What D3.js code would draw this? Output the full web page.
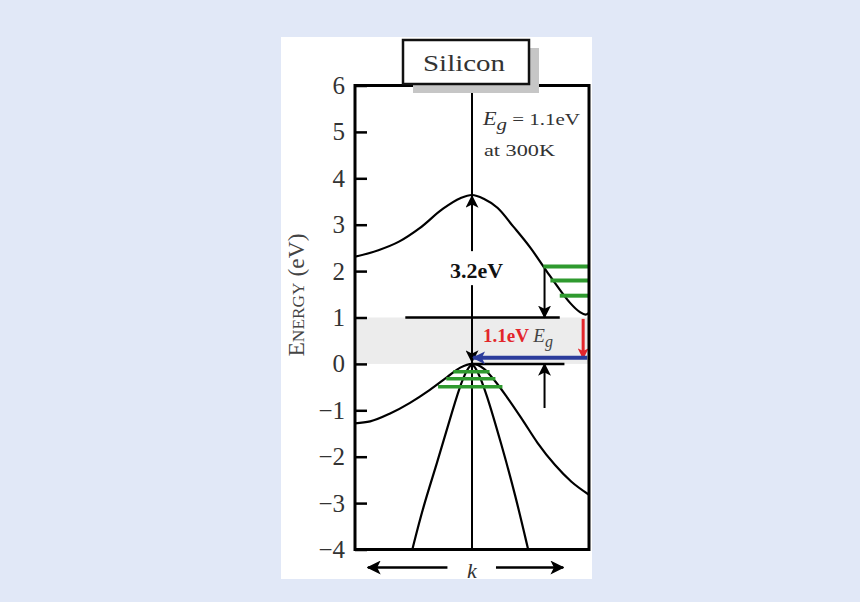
<!DOCTYPE html>
<html>
<head>
<meta charset="utf-8">
<script src="https://cdn.jsdelivr.net/npm/d3@7"></script>
<style>
  body { margin: 0; background: #e1e8f7; }
  svg { display: block; font-family: 'Liberation Serif', 'DejaVu Serif', serif; }
</style>
</head>
<body>
<svg id="chart" width="860" height="602"></svg>
<script>
const energyTicks = [-4, -3, -2, -1, 0, 1, 2, 3, 4, 5, 6]

// conduction band (k from -1 to 1, energy in eV)
const condK = [-1.0, -0.8, -0.62, -0.45, -0.25, -0.1, 0, 0.1, 0.22, 0.35, 0.5, 0.64, 0.75, 0.84, 0.92, 0.97, 1.0]
const condE = [2.31, 2.45, 2.64, 2.92, 3.34, 3.57, 3.64, 3.56, 3.36, 2.97, 2.5, 1.99, 1.6, 1.31, 1.12, 1.06, 1.1]

// valence band, outer branch
const valK = [-1.0, -0.87, -0.7, -0.53, -0.36, -0.21, -0.1, 0, 0.1, 0.2, 0.3, 0.43, 0.56, 0.71, 0.85, 1.0]
const valE = [-1.28, -1.24, -1.07, -0.84, -0.56, -0.28, -0.08, 0, -0.1, -0.38, -0.72, -1.2, -1.7, -2.18, -2.54, -2.82]

// valence band, steep inner branches
const innerLeftK = [-0.51, -0.42, -0.3, -0.19, -0.1, -0.04, 0]
const innerLeftE = [-4.0, -3.1, -2.15, -1.2, -0.45, -0.1, 0]
const innerRightK = [0, 0.04, 0.12, 0.25, 0.37, 0.48]
const innerRightE = [0, -0.1, -0.6, -1.72, -2.82, -4.0]

// filled states (green levels)
const condLevelE = [2.1, 1.8, 1.47]
const condLevelK = [0.61, 0.67, 0.75]
const valLevelE = [-0.17, -0.32, -0.49]
const valLevelK0 = [-0.16, -0.22, -0.29]
const valLevelK1 = [0.15, 0.2, 0.26]

// band edge lines
const edgeE = [1, 0]
const edgeK0 = [-0.57, 0]
const edgeK1 = [0.75, 0.79]

const arrowNames = ['cbDrop', 'vbRise', 'directUp', 'directDown', 'recombine', 'emit']
const arrowK0 = [0.62, 0.62, 0, 0, 0.95, 0.985]
const arrowK1 = [0.62, 0.62, 0, 0, 0.95, 0.01]
const arrowE0 = [2.05, -0.95, 3.0, 0.6, 0.97, 0.13]
const arrowE1 = [1.0, 0.0, 3.62, 0.04, 0.12, 0.13]

const x = d3.scaleLinear().domain([-1, 1]).range([355, 589])
const y = d3.scaleLinear().domain([-4, 6]).range([549.5, 85.5])

const svg = d3.select('#chart')

const arrowStyle = {
  cbDrop: { color: '#000', width: 2 },
  vbRise: { color: '#000', width: 2 },
  directUp: { color: '#000', width: 2 },
  directDown: { color: '#000', width: 2 },
  recombine: { color: '#e3262b', width: 3 },
  emit: { color: '#2b3c9c', width: 4 },
}

const defs = svg.append('defs')
function marker(id, color, size) {
  defs.append('marker')
    .attr('id', id)
    .attr('viewBox', '0 -6 12 12')
    .attr('refX', 11)
    .attr('refY', 0)
    .attr('markerUnits', 'userSpaceOnUse')
    .attr('markerWidth', size)
    .attr('markerHeight', size)
    .attr('orient', 'auto')
    .append('path')
    .attr('d', 'M0,-6L12,0L0,6L3,0Z')
    .attr('fill', color)
}
marker('head-black', '#000', 13)
marker('head-red', '#e3262b', 11)
marker('head-blue', '#2b3c9c', 13)
marker('head-k', '#000', 14)

// white panel
svg.append('rect')
  .attr('x', 281).attr('y', 37)
  .attr('width', 311).attr('height', 542)
  .attr('fill', '#fff')

// band gap shading
svg.append('rect')
  .attr('x', x(-1)).attr('y', y(1))
  .attr('width', x(1) - x(-1)).attr('height', y(0) - y(1))
  .attr('fill', '#ececec')

// center line (k = 0)
svg.append('line')
  .attr('x1', x(0)).attr('x2', x(0))
  .attr('y1', y(6)).attr('y2', y(-4))
  .attr('stroke', '#000').attr('stroke-width', 2)

const smooth = d3.line()
  .x((d) => x(d[0]))
  .y((d) => y(d[1]))
  .curve(d3.curveMonotoneX)

const steep = d3.line()
  .x((d) => x(d[0]))
  .y((d) => y(d[1]))
  .curve(d3.curveBasis)

const curves = [
  [condK, condE, smooth],
  [valK, valE, smooth],
  [innerLeftK, innerLeftE, steep],
  [innerRightK, innerRightE, steep],
]
svg.selectAll('.band')
  .data(curves)
  .enter()
  .append('path')
  .attr('class', 'band')
  .attr('d', (c) => c[2](d3.zip(c[0], c[1])))
  .attr('fill', 'none')
  .attr('stroke', '#000')
  .attr('stroke-width', 2.2)

// band edges
svg.selectAll('.edge')
  .data(edgeE)
  .enter()
  .append('line')
  .attr('class', 'edge')
  .attr('x1', (d, i) => x(edgeK0[i]))
  .attr('x2', (d, i) => x(edgeK1[i]))
  .attr('y1', (d) => y(d))
  .attr('y2', (d) => y(d))
  .attr('stroke', '#000')
  .attr('stroke-width', 2.5)

// green levels
svg.selectAll('.clevel')
  .data(condLevelE)
  .enter()
  .append('line')
  .attr('x1', (d, i) => x(condLevelK[i]))
  .attr('x2', x(1))
  .attr('y1', (d) => y(d))
  .attr('y2', (d) => y(d))
  .attr('stroke', '#2f9a2f')
  .attr('stroke-width', 4)

svg.selectAll('.vlevel')
  .data(valLevelE)
  .enter()
  .append('line')
  .attr('x1', (d, i) => x(valLevelK0[i]))
  .attr('x2', (d, i) => x(valLevelK1[i]))
  .attr('y1', (d) => y(d))
  .attr('y2', (d) => y(d))
  .attr('stroke', '#2f9a2f')
  .attr('stroke-width', 3.5)

// 3.2eV label with gap in the center line
const gapLabel = svg.append('g')
gapLabel.append('rect')
  .attr('x', x(0) - 24).attr('y', y(2.43))
  .attr('width', 52).attr('height', 34)
  .attr('fill', '#fff')
gapLabel.append('text')
  .attr('x', 450).attr('y', y(1.85))
  .attr('textLength', 53)
  .attr('lengthAdjust', 'spacingAndGlyphs')
  .style('font-size', '21px')
  .style('font-weight', 'bold')
  .attr('fill', '#111')
  .text('3.2eV')

// arrows
const headFor = { '#000': 'head-black', '#e3262b': 'head-red', '#2b3c9c': 'head-blue' }
svg.selectAll('.arrow')
  .data(arrowNames)
  .enter()
  .append('line')
  .attr('class', 'arrow')
  .attr('x1', (d, i) => x(arrowK0[i]))
  .attr('x2', (d, i) => x(arrowK1[i]))
  .attr('y1', (d, i) => y(arrowE0[i]))
  .attr('y2', (d, i) => y(arrowE1[i]))
  .attr('stroke', (d) => arrowStyle[d].color)
  .attr('stroke-width', (d) => arrowStyle[d].width)
  .attr('marker-end', (d) => `url(#${headFor[arrowStyle[d].color]})`)

// 1.1eV Eg label
const eg = svg.append('text')
  .attr('x', 483).attr('y', y(0.47))
  .style('font-size', '19px')
eg.append('tspan').attr('fill', '#e3262b').style('font-weight', 'bold').text('1.1eV ')
eg.append('tspan').attr('fill', '#444').style('font-style', 'italic').text('E')
eg.append('tspan').attr('fill', '#444').style('font-style', 'italic').attr('dy', 5).style('font-size', '16px').text('g')

// top right note
const note = svg.append('text')
  .attr('x', 483).attr('y', 125)
  .attr('textLength', 97)
  .attr('lengthAdjust', 'spacingAndGlyphs')
  .style('font-size', '17px')
  .attr('fill', '#333')
note.append('tspan').style('font-style', 'italic').style('font-size', '18px').text('E')
note.append('tspan').style('font-style', 'italic').attr('dy', 5).style('font-size', '17px').text('g')
note.append('tspan').attr('dy', -5).text(' = 1.1eV')
svg.append('text')
  .attr('x', 484).attr('y', 156)
  .attr('textLength', 71)
  .attr('lengthAdjust', 'spacingAndGlyphs')
  .style('font-size', '17px')
  .attr('fill', '#333')
  .text('at 300K')

// frame
svg.append('rect')
  .attr('x', x(-1)).attr('y', y(6))
  .attr('width', x(1) - x(-1)).attr('height', y(-4) - y(6))
  .attr('fill', 'none')
  .attr('stroke', '#000')
  .attr('stroke-width', 3)

// energy axis
const yAxis = d3.axisLeft(y)
  .tickValues(energyTicks)
  .tickSizeInner(-12)
  .tickSizeOuter(0)
  .tickPadding(10)

const gy = svg.append('g')
  .attr('transform', `translate(${x(-1)},0)`)
  .call(yAxis)
gy.select('.domain').remove()
gy.selectAll('.tick line').attr('stroke', '#000').attr('stroke-width', 2.5)
gy.selectAll('.tick text')
  .attr('fill', '#333')
  .style('font-family', "'Liberation Serif', serif")
  .style('font-size', '25px')

const yLabel = svg.append('text')
  .attr('transform', 'translate(304,295) rotate(-90)')
  .attr('text-anchor', 'middle')
  .attr('textLength', 123)
  .attr('lengthAdjust', 'spacingAndGlyphs')
  .attr('fill', '#444')
  .style('font-size', '23px')
yLabel.append('tspan').text('E')
yLabel.append('tspan').style('font-size', '17px').text('NERGY')
yLabel.append('tspan').text(' (eV)')

// title box with shadow
svg.append('rect')
  .attr('x', 413).attr('y', 48)
  .attr('width', 126).attr('height', 45)
  .attr('fill', '#c6c6c6')
svg.append('rect')
  .attr('x', 403).attr('y', 40)
  .attr('width', 126).attr('height', 44)
  .attr('fill', '#fff')
  .attr('stroke', '#111')
  .attr('stroke-width', 2.5)
svg.append('text')
  .attr('x', 423).attr('y', 71)
  .attr('textLength', 82)
  .attr('lengthAdjust', 'spacingAndGlyphs')
  .attr('fill', '#333')
  .style('font-size', '23px')
  .text('Silicon')

// k direction arrows
const kArrowK0 = [-0.21, 0.205]
const kArrowK1 = [-0.89, 0.78]
svg.selectAll('.karrow')
  .data(kArrowK0)
  .enter()
  .append('line')
  .attr('x1', (d) => x(d))
  .attr('x2', (d, i) => x(kArrowK1[i]))
  .attr('y1', y(-4) + 18)
  .attr('y2', y(-4) + 18)
  .attr('stroke', '#000')
  .attr('stroke-width', 2.5)
  .attr('marker-end', 'url(#head-k)')
svg.append('text')
  .attr('x', x(0)).attr('y', 578)
  .attr('text-anchor', 'middle')
  .attr('fill', '#333')
  .style('font-size', '22px')
  .style('font-style', 'italic')
  .text('k')
</script>
</body>
</html>
